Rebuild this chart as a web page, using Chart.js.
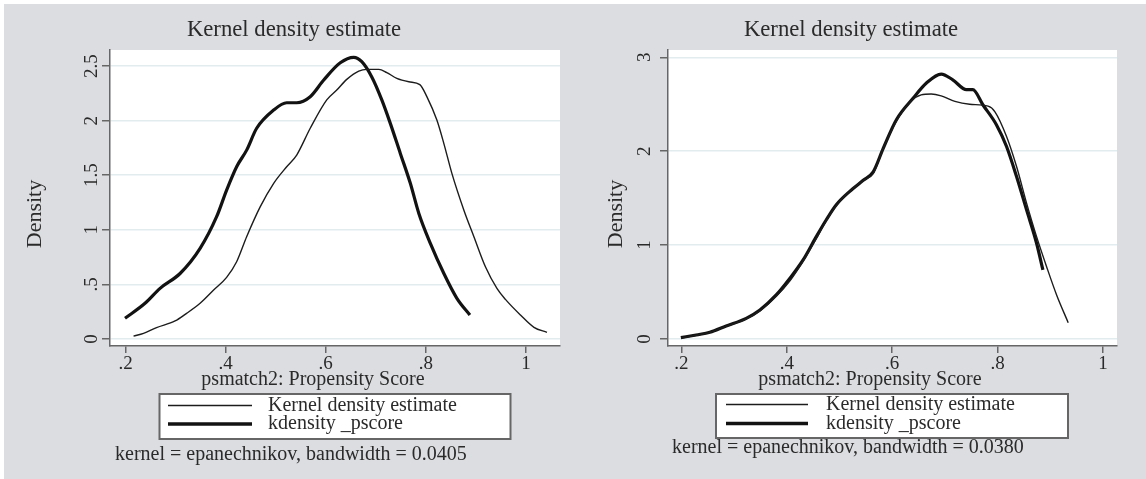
<!DOCTYPE html>
<html><head><meta charset="utf-8">
<script src="https://cdn.jsdelivr.net/npm/chart.js@4.4.1/dist/chart.umd.min.js"></script>
<style>
html,body{margin:0;padding:0;background:#fff;width:1146px;height:479px;overflow:hidden}
#bg{position:absolute;left:4px;top:4px;right:0;bottom:0;background:#dcdde0}
canvas{position:absolute;top:0}
#c1{left:0}#c2{left:573px}
</style></head><body>
<div id="bg"></div>
<canvas id="c1" width="573" height="479"></canvas>
<canvas id="c2" width="573" height="479"></canvas>
<script>
// ---------- data ----------
const seriesNames = ["Kernel density estimate", "kdensity _pscore"];
const chartTitle = "Kernel density estimate";
const xAxisTitle = "psmatch2: Propensity Score";
const yAxisTitle = "Density";
const xTickValues = [0.2, 0.4, 0.6, 0.8, 1];
const xTickLabels = [".2", ".4", ".6", ".8", "1"];
const leftYTickValues = [0, 0.5, 1, 1.5, 2, 2.5];
const leftYTickLabels = ["0", ".5", "1", "1.5", "2", "2.5"];
const rightYTickValues = [0, 1, 2, 3];
const rightYTickLabels = ["0", "1", "2", "3"];
const leftNote = "kernel = epanechnikov, bandwidth = 0.0405";
const rightNote = "kernel = epanechnikov, bandwidth = 0.0380";

// left panel, thin curve (Kernel density estimate)
const leftThinX = [0.216,0.236,0.262,0.299,0.322,0.349,0.376,0.402,0.422,0.442,0.469,0.496,0.522,0.542,0.569,0.602,0.622,0.642,0.666,0.682,0.706,0.722,0.742,0.766,0.788,0.802,0.822,0.836,0.852,0.876,0.896,0.919,0.942,0.959,0.989,1.016,1.042];
const leftThinY = [0.027,0.052,0.104,0.165,0.235,0.327,0.449,0.565,0.708,0.937,1.21,1.426,1.578,1.685,1.93,2.19,2.28,2.378,2.454,2.47,2.47,2.44,2.387,2.356,2.33,2.22,2.005,1.79,1.517,1.18,0.937,0.662,0.464,0.363,0.22,0.107,0.061];
// left panel, thick curve (kdensity _pscore)
const leftThickX = [0.199,0.239,0.269,0.309,0.349,0.382,0.402,0.422,0.442,0.462,0.496,0.522,0.542,0.569,0.596,0.629,0.656,0.672,0.692,0.712,0.729,0.749,0.769,0.786,0.809,0.836,0.862,0.888];
const leftThickY = [0.19,0.327,0.464,0.60,0.83,1.12,1.364,1.578,1.73,1.93,2.097,2.164,2.164,2.219,2.372,2.53,2.58,2.54,2.40,2.19,1.975,1.70,1.426,1.15,0.876,0.60,0.373,0.22];
// right panel, thin curve
const rightThinX = [0.2,0.228,0.254,0.285,0.323,0.349,0.380,0.406,0.431,0.456,0.475,0.494,0.519,0.545,0.564,0.583,0.608,0.635,0.655,0.674,0.693,0.719,0.747,0.782,0.795,0.817,0.836,0.855,0.874,0.893,0.912,0.934];
const rightThinY = [0.01,0.04,0.07,0.135,0.215,0.30,0.455,0.62,0.83,1.07,1.26,1.42,1.57,1.69,1.76,2.03,2.32,2.53,2.60,2.61,2.59,2.53,2.50,2.48,2.42,2.157,1.837,1.447,1.09,0.77,0.469,0.174];
// right panel, thick curve
const rightThickX = [0.199,0.228,0.254,0.285,0.323,0.349,0.380,0.406,0.431,0.456,0.475,0.494,0.519,0.545,0.564,0.583,0.608,0.640,0.665,0.693,0.715,0.741,0.753,0.772,0.798,0.817,0.836,0.855,0.874,0.886];
const rightThickY = [0.014,0.043,0.071,0.139,0.22,0.309,0.469,0.647,0.842,1.09,1.27,1.43,1.57,1.69,1.78,2.03,2.335,2.566,2.726,2.822,2.76,2.655,2.655,2.495,2.28,2.05,1.73,1.375,1.02,0.736];

// ---------- drawing ----------
const SERIF = '"Liberation Serif", "Times New Roman", serif';
const TEXT = '#2a2a2a';
const AXIS = '#666';
const GRID = '#e2ecef';

function pairs(xs, ys) { return xs.map((x, i) => ({x: x, y: ys[i]})); }

function makePanel(id, p) {
  const decor = {
    id: 'decor' + id,
    beforeDraw(chart) {
      const a = chart.chartArea, c = chart.ctx;
      c.save(); c.fillStyle = '#fff';
      c.fillRect(a.left, a.top, a.right - a.left, a.bottom - a.top);
      c.restore();
    },
    afterDraw(chart) {
      const c = chart.ctx, ys = chart.scales.y;
      c.save();
      c.fillStyle = TEXT;
      // title
      c.font = '22.7px ' + SERIF; c.textAlign = 'center'; c.textBaseline = 'middle';
      c.fillText(chartTitle, p.titleX, 30);
      // y axis title
      c.save(); c.translate(p.densX, 214); c.rotate(-Math.PI / 2);
      c.font = '22px ' + SERIF; c.fillText(yAxisTitle, 0, 0); c.restore();
      // y tick labels (rotated, Stata style)
      c.font = '19px ' + SERIF;
      p.yVals.forEach((v, i) => {
        c.save(); c.translate(p.yLabX, ys.getPixelForValue(v)); c.rotate(-Math.PI / 2);
        c.fillText(p.yLabs[i], 0, 0); c.restore();
      });
      // x axis title
      c.font = '20px ' + SERIF;
      c.fillText(xAxisTitle, p.xTitleX, 380);
      // legend
      const L = p.legend;
      c.fillStyle = '#fff'; c.fillRect(L.x0, L.y0, L.x1 - L.x0, L.y1 - L.y0);
      c.strokeStyle = AXIS; c.lineWidth = 2; c.strokeRect(L.x0, L.y0, L.x1 - L.x0, L.y1 - L.y0);
      chart.data.datasets.forEach((ds, i) => {
        const ry = L.rows[i];
        c.strokeStyle = ds.borderColor; c.lineWidth = ds.borderWidth + (i ? 0.5 : 0);
        c.beginPath(); c.moveTo(L.lx0, ry); c.lineTo(L.lx1, ry); c.stroke();
        c.fillStyle = TEXT; c.textAlign = 'left'; c.font = '20px ' + SERIF;
        c.fillText(ds.label, L.tx, ry);
      });
      // note
      c.textAlign = 'left';
      c.fillText(p.note, p.noteX, p.noteY);
      c.restore();
    }
  };
  return new Chart(document.getElementById(id), {
    type: 'line',
    data: {
      datasets: [
        {label: seriesNames[0], data: pairs(p.thinX, p.thinY), borderColor: '#1c1c1c', borderWidth: 1.4,
         pointRadius: 0, cubicInterpolationMode: 'monotone', fill: false},
        {label: seriesNames[1], data: pairs(p.thickX, p.thickY), borderColor: '#121212', borderWidth: 3.2,
         pointRadius: 0, cubicInterpolationMode: 'monotone', fill: false}
      ]
    },
    options: {
      responsive: false, animation: false, devicePixelRatio: 1,
      layout: {padding: {left: 0, top: 50, right: p.padRight, bottom: 93}},
      plugins: {legend: {display: false}, title: {display: false}, tooltip: {enabled: false}},
      scales: {
        x: {
          type: 'linear', min: p.xMin, max: p.xMax,
          afterBuildTicks: s => { s.ticks = xTickValues.map(v => ({value: v})); },
          afterFit: s => { s.height = 40; },
          grid: {drawOnChartArea: false, drawTicks: true, tickLength: 7, tickColor: AXIS, lineWidth: 1.5},
          border: {display: true, color: AXIS, width: 1.5},
          ticks: {font: {family: SERIF, size: 19}, color: TEXT, padding: 0, maxRotation: 0, minRotation: 0,
                  autoSkip: false, callback: (v, i) => xTickLabels[i]}
        },
        y: {
          type: 'linear', min: p.yMin, max: p.yMax,
          afterBuildTicks: s => { s.ticks = p.yVals.map(v => ({value: v})); },
          afterFit: s => { s.width = p.yWidth; },
          grid: {color: GRID, lineWidth: 1.5, drawTicks: true, tickLength: 8, tickColor: AXIS},
          border: {display: true, color: AXIS, width: 1.5},
          ticks: {display: false}
        }
      }
    },
    plugins: [decor]
  });
}

makePanel('c1', {
  thinX: leftThinX, thinY: leftThinY, thickX: leftThickX, thickY: leftThickY,
  xMin: 0.169, xMax: 1.068, yMin: -0.064, yMax: 2.647,
  yVals: leftYTickValues, yLabs: leftYTickLabels,
  yWidth: 110, padRight: 13,
  titleX: 294, densX: 35, yLabX: 92, xTitleX: 313,
  legend: {x0: 159.5, y0: 394, x1: 510.5, y1: 439, lx0: 168, lx1: 252, tx: 268, rows: [405.5, 424]},
  note: leftNote, noteX: 115, noteY: 455
});
makePanel('c2', {
  thinX: rightThinX, thinY: rightThinY, thickX: rightThickX, thickY: rightThickY,
  xMin: 0.1746, xMax: 1.0266, yMin: -0.0746, yMax: 3.078,
  yVals: rightYTickValues, yLabs: rightYTickLabels,
  yWidth: 95, padRight: 29,
  titleX: 278, densX: 43, yLabX: 72, xTitleX: 297,
  legend: {x0: 143, y0: 394, x1: 495, y1: 438, lx0: 153, lx1: 235, tx: 253, rows: [404.5, 423.5]},
  note: rightNote, noteX: 99, noteY: 448
});
</script>
</body></html>
